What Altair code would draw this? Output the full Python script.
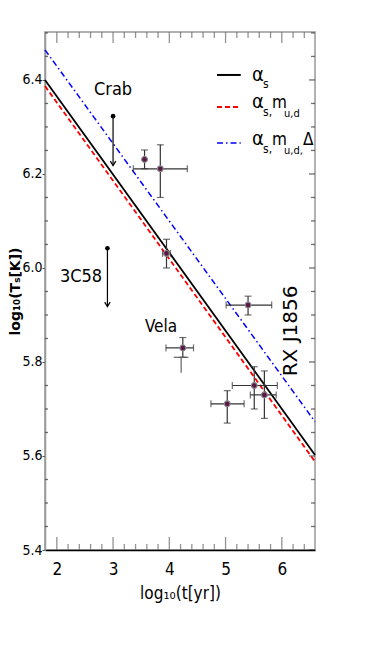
import altair as alt
import pandas as pd

# ---------------- data ----------------
# straight fits, end points at the left/right frame
line_x = [1.79, 6.59]
black_y = [6.400, 5.602]   # alpha_s
red_y = [6.387, 5.588]     # alpha_s, m_u,d
blue_y = [6.464, 5.673]    # alpha_s, m_u,d, Delta

# observed pulsars with error bars
pt_x = [3.56, 3.84, 3.95, 4.24, 5.40, 5.51, 5.69, 5.03]
pt_y = [6.231, 6.211, 6.031, 5.830, 5.921, 5.750, 5.730, 5.711]
pt_xlo = [3.56, 3.36, 3.88, 3.94, 5.01, 5.12, 5.44, 4.74]
pt_xhi = [3.56, 4.32, 4.02, 4.43, 5.82, 5.92, 5.90, 5.33]
pt_ylo = [6.211, 6.150, 6.000, 5.810, 5.900, 5.700, 5.680, 5.670]
pt_yhi = [6.251, 6.262, 6.061, 5.852, 5.940, 5.790, 5.781, 5.739]

# second (grey) Vela estimate, no marker
v2_x = [4.21]
v2_y = [5.810]
v2_xlo = [4.08]
v2_xhi = [4.34]
v2_ylo = [5.777]

# upper limits (Crab, 3C58)
lim_x = [3.00, 2.90]
lim_top = [6.323, 6.042]
lim_bot = [6.218, 5.918]

# axis ticks
x_major = [2, 3, 4, 5, 6]
x_minor = [2.2, 2.4, 2.6, 2.8, 3.2, 3.4, 3.6, 3.8, 4.2, 4.4, 4.6, 4.8,
           5.2, 5.4, 5.6, 5.8, 6.2, 6.4]
y_major = [5.4, 5.6, 5.8, 6.0, 6.2, 6.4]
y_minor = [5.45, 5.5, 5.55, 5.65, 5.7, 5.75, 5.85, 5.9, 5.95, 6.05, 6.1,
           6.15, 6.25, 6.3, 6.35, 6.45, 6.5]

# ---------------- styling ----------------
X0, X1 = 1.79, 6.59
Y0, Y1 = 5.4, 6.502
NARROW = "DejaVu Sans Condensed, Liberation Sans Narrow, Liberation Sans"
xs = alt.Scale(domain=[X0, X1], nice=False, zero=False)
ys = alt.Scale(domain=[Y0, Y1], nice=False, zero=False)


def X(f, **kw):
    return alt.X(f, type="quantitative", scale=xs, **kw)


def Y(f, **kw):
    return alt.Y(f, type="quantitative", scale=ys, **kw)


def dx_(v):
    return alt.datum(v, type="quantitative", scale=xs)


def dy_(v):
    return alt.datum(v, type="quantitative", scale=ys)


one = pd.DataFrame({"a": [0]})

lines = pd.DataFrame({
    "x": line_x * 3,
    "y": black_y + red_y + blue_y,
    "s": ["a"] * 2 + ["b"] * 2 + ["c"] * 2,
})

pts = pd.DataFrame({"x": pt_x, "y": pt_y, "xlo": pt_xlo, "xhi": pt_xhi,
                    "ylo": pt_ylo, "yhi": pt_yhi})
v2 = pd.DataFrame({"x": v2_x, "y": v2_y, "xlo": v2_xlo, "xhi": v2_xhi,
                   "ylo": v2_ylo})
lims = pd.DataFrame({"x": lim_x, "top": lim_top, "bot": lim_bot})

layers = []

# main axes layer (invisible points)
axis_layer = alt.Chart(pts).mark_point(opacity=0).encode(
    x=alt.X("x:Q", scale=xs, axis=alt.Axis(
        values=x_major, format="d", ticks=False, grid=False,
        labelFont=NARROW, labelFontSize=17, labelColor="black",
        labelPadding=11, domainColor="black", domainWidth=1.5,
        title="log₁₀(t[yr])", titleFont=NARROW, titleFontSize=17,
        titleFontWeight="normal", titleColor="black", titlePadding=8)),
    y=alt.Y("y:Q", scale=ys, axis=alt.Axis(
        values=y_major, format=".1f", ticks=True, tickSize=3,
        tickColor="#555", grid=False, labelFont=NARROW, labelFontSize=14,
        labelColor="black", labelPadding=0, domainColor="#999",
        domainWidth=1.5, title="log₁₀(Tₛ[K])", titleFont="DejaVu Sans",
        titleFontSize=14, titleFontWeight="bold", titleColor="black",
        titleX=-30, titleY=259, titleAlign="center",
        titleBaseline="middle", titleAngle=270)),
)
layers.append(axis_layer)

# inward frame ticks
tx_maj = pd.DataFrame({"v": x_major})
tx_min = pd.DataFrame({"v": x_minor})
ty_maj = pd.DataFrame({"v": y_major})
ty_min = pd.DataFrame({"v": y_minor})
tc = "#666"
layers += [
    alt.Chart(tx_maj).mark_tick(orient="vertical", size=26, thickness=1.3,
                                color=tc, clip=True).encode(x=X("v"), y=dy_(Y0)),
    alt.Chart(tx_min).mark_tick(orient="vertical", size=12, thickness=1.3,
                                color=tc, clip=True).encode(x=X("v"), y=dy_(Y0)),
    alt.Chart(tx_maj).mark_tick(orient="vertical", size=22, thickness=1.3,
                                color=tc, clip=True).encode(x=X("v"), y=dy_(Y1)),
    alt.Chart(tx_min).mark_tick(orient="vertical", size=12, thickness=1.3,
                                color=tc, clip=True).encode(x=X("v"), y=dy_(Y1)),
    alt.Chart(ty_maj).mark_tick(orient="horizontal", size=12, thickness=1.3,
                                color="#333", clip=True).encode(x=dx_(X1), y=Y("v")),
    alt.Chart(ty_min).mark_tick(orient="horizontal", size=8, thickness=1.3,
                                color="#333", clip=True).encode(x=dx_(X1), y=Y("v")),
    alt.Chart(ty_min).mark_tick(orient="horizontal", size=6, thickness=1.3,
                                color="#333", clip=True).encode(x=dx_(X0), y=Y("v")),
]

# fit lines
layers += [
    alt.Chart(lines).transform_filter("datum.s == 'a'").mark_line(
        color="black", strokeWidth=1.8).encode(x=X("x"), y=Y("y")),
    alt.Chart(lines).transform_filter("datum.s == 'b'").mark_line(
        color="#ff0000", strokeWidth=1.8, strokeDash=[5, 3]).encode(x=X("x"), y=Y("y")),
    alt.Chart(lines).transform_filter("datum.s == 'c'").mark_line(
        color="#0000ff", strokeWidth=1.5, strokeDash=[6, 3, 1.5, 3]).encode(x=X("x"), y=Y("y")),
]

# error bars
ec = "#333"
layers += [
    alt.Chart(pts).transform_filter("datum.xhi > datum.xlo").mark_rule(
        color=ec, strokeWidth=1.2).encode(x=X("xlo"), x2="xhi", y=Y("y")),
    alt.Chart(pts).mark_rule(color=ec, strokeWidth=1.2).encode(
        x=X("x"), y=Y("ylo"), y2="yhi"),
    alt.Chart(pts).transform_filter("datum.xhi > datum.xlo").transform_fold(
        ["xlo", "xhi"], as_=["k", "xe"]).mark_tick(
        orient="vertical", size=7, thickness=1.2, color=ec).encode(
        x=X("xe"), y=Y("y")),
    alt.Chart(pts).transform_fold(["ylo", "yhi"], as_=["k", "ye"]).mark_tick(
        orient="horizontal", size=7, thickness=1.2, color=ec).encode(
        x=X("x"), y=Y("ye")),
    # grey Vela cross
    alt.Chart(v2).mark_rule(color="#555", strokeWidth=1.1).encode(
        x=X("xlo"), x2="xhi", y=Y("y")),
    alt.Chart(v2).mark_rule(color="#555", strokeWidth=1.1).encode(
        x=X("x"), y=Y("ylo"), y2="y"),
    alt.Chart(pts).mark_point(filled=True, size=34, color="#5a1848",
                              stroke="#8a8a8a", strokeWidth=1.2, opacity=1).encode(
        x=X("x"), y=Y("y")),
]

# upper limits
layers += [
    alt.Chart(lims).mark_rule(color="black", strokeWidth=1.2).encode(
        x=X("x"), y=Y("top"), y2="bot"),
    alt.Chart(lims).mark_point(filled=True, size=22, color="black",
                               opacity=1).encode(x=X("x"), y=Y("top")),
    alt.Chart(lims).mark_point(shape="M-1,-1.6L0,0L1,-1.6", filled=False,
                               size=30, color="black", strokeWidth=1.2,
                               opacity=1).encode(x=X("x"), y=Y("bot")),
]


def txt(s, x, y, size, dx=0, dy=0, font=NARROW, align="left",
        baseline="alphabetic", angle=0, weight="normal"):
    return alt.Chart(one).mark_text(
        text=s, dx=dx, dy=dy, fontSize=size, font=font, align=align,
        baseline=baseline, angle=angle, fontWeight=weight,
        color="black").encode(x=dx_(x), y=dy_(y))


# source labels
layers += [
    txt("Crab", 3.0, 6.379, 18, align="center", baseline="middle"),
    txt("3C58", 2.43, 5.981, 18, align="center", baseline="middle"),
    txt("Vela", 3.852, 5.874, 17, align="center", baseline="middle"),
    txt("RX J1856", 6.163, 5.866, 20, font="DejaVu Sans", align="center",
        baseline="middle", angle=270),
]

# legend (line samples + labels with subscripts)
lg_x0, lg_x1, lg_tx = 4.848, 5.27, 5.47
rows = [6.4106, 6.3426, 6.266]
layers += [
    alt.Chart(one).mark_rule(color="black", strokeWidth=2).encode(
        x=dx_(lg_x0), x2=alt.datum(lg_x1), y=dy_(rows[0])),
    alt.Chart(one).mark_rule(color="#ff0000", strokeWidth=2,
                             strokeDash=[5, 3]).encode(
        x=dx_(lg_x0), x2=alt.datum(lg_x1), y=dy_(rows[1])),
    alt.Chart(one).mark_rule(color="#0000ff", strokeWidth=1.6,
                             strokeDash=[6, 3, 1.5, 3]).encode(
        x=dx_(lg_x0), x2=alt.datum(lg_x1), y=dy_(rows[2])),
    # row 1
    txt("α", lg_tx, rows[0], 20, dx=0, dy=6),
    txt("s", lg_tx, rows[0], 12, dx=11, dy=13),
    # row 2
    txt("α", lg_tx, rows[1], 20, dx=0, dy=1),
    txt("s,", lg_tx, rows[1], 12, dx=11, dy=9),
    txt("m", lg_tx, rows[1], 17, dx=20, dy=1),
    txt("u,d", lg_tx, rows[1], 11, dx=32, dy=10),
    # row 3
    txt("α", lg_tx, rows[2], 20, dx=0, dy=2),
    txt("s,", lg_tx, rows[2], 12, dx=11, dy=10),
    txt("m", lg_tx, rows[2], 17, dx=20, dy=2),
    txt("u,d,", lg_tx, rows[2], 11, dx=32, dy=11),
    txt("Δ", lg_tx, rows[2], 17, dx=51, dy=2),
]

chart = alt.layer(*layers).properties(
    width=270, height=518,
    autosize=alt.AutoSizeParams(type="none"),
    padding={"left": 37, "top": 24, "right": 50, "bottom": 80},
).configure_view(stroke="#999", strokeWidth=1.5)

chart.save("out.html", embed_options={"renderer": "svg", "actions": False})
